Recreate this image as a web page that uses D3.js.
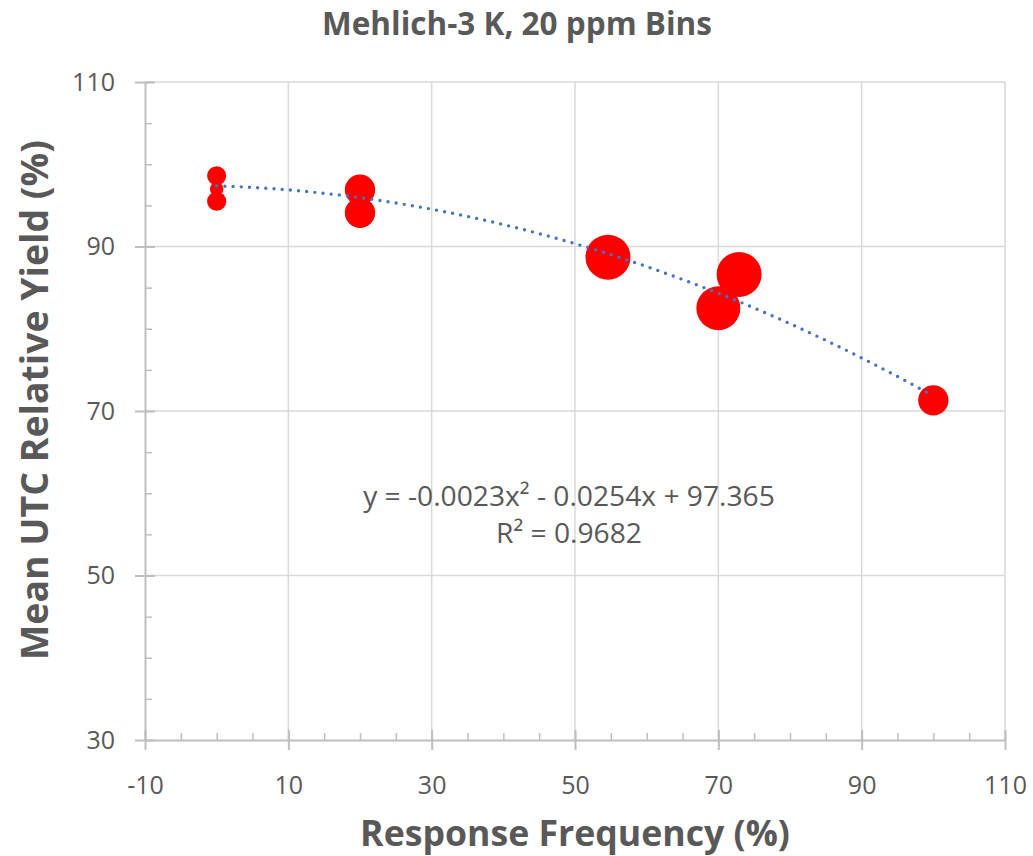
<!DOCTYPE html>
<html>
<head>
<meta charset="utf-8">
<script src="https://cdn.jsdelivr.net/npm/d3@7"></script>
<style>
  body { margin: 0; background: #fff; }
  text { font-family: "Open Sans", "Noto Sans", sans-serif; fill: #595959; }
</style>
</head>
<body>
<div id="viz"></div>
<script>
// -----------------------------
// DATA
// -----------------------------
const responseFreq = [0, 0, 0, 20, 20, 54.6, 70, 72.9, 100];
const relYield     = [98.6, 97.0, 95.5, 96.9, 94.1, 88.7, 82.5, 86.6, 71.3];
const bubbleSize   = [4, 2, 4, 10, 10, 22, 21, 22, 10];

const xTicks = [-10, 10, 30, 50, 70, 90, 110];
const yTicks = [30, 50, 70, 90, 110];

// trendline coefficients as printed on the chart: a*x^2 + b*x + c
const trendCoef = [-0.0023, -0.0254, 97.365];
const trendRange = [0, 100];
const eqLabel = "y = -0.0023x² - 0.0254x + 97.365";
const r2Label = "R² = 0.9682";

const title  = "Mehlich-3 K, 20 ppm Bins";
const xTitle = "Response Frequency (%)";
const yTitle = "Mean UTC Relative Yield (%)";

// -----------------------------
// LAYOUT
// -----------------------------
const width = 1033, height = 856;
const margin = { top: 82, right: 28, bottom: 116, left: 145 };

const svg = d3.select("#viz")
  .append("svg")
  .attr("width", width)
  .attr("height", height);

const x = d3.scaleLinear().domain([-10, 110]).range([margin.left, width - margin.right]);
const y = d3.scaleLinear().domain([30, 110]).range([height - margin.bottom, margin.top]);
const r = d3.scaleSqrt().domain([0, 22]).range([0, 22.5]);

// shrink/grow a text so it spans a given width
function fitText(sel, target) {
  const w = sel.node().getComputedTextLength();
  const fs = parseFloat(sel.attr("font-size"));
  sel.attr("font-size", fs * target / w);
}

// -----------------------------
// GRIDLINES
// -----------------------------
svg.append("g")
  .selectAll("line")
  .data(xTicks.filter(d => d > -10))
  .join("line")
  .attr("x1", d => x(d)).attr("x2", d => x(d))
  .attr("y1", y(30)).attr("y2", y(110))
  .attr("stroke", "#d9d9d9")
  .attr("stroke-width", 1.5);

svg.append("g")
  .selectAll("line")
  .data(yTicks.filter(d => d > 30))
  .join("line")
  .attr("x1", x(-10)).attr("x2", x(110))
  .attr("y1", d => y(d)).attr("y2", d => y(d))
  .attr("stroke", "#d9d9d9")
  .attr("stroke-width", 1.5);

// -----------------------------
// AXES
// -----------------------------
const axisColor = "#bfbfbf";
const plain = d => String(d);   // keep the hyphen-minus like Excel

// x axis: major ticks cross the line, minor ticks inside
const xAxis = svg.append("g").attr("transform", `translate(0,${y(30)})`);
xAxis.call(d3.axisBottom(x).tickValues(d3.range(-10, 111, 5)).tickSize(7).tickFormat(""))
  .call(g => g.selectAll(".tick line").attr("y2", -7).attr("stroke", axisColor).attr("stroke-width", 1.5));
xAxis.call(g => g.select(".domain").remove());
xAxis.append("g")
  .call(d3.axisBottom(x).tickValues(xTicks).tickFormat(plain).tickSizeInner(10).tickSizeOuter(0).tickPadding(26))
  .call(g => g.select(".domain").attr("stroke", axisColor).attr("stroke-width", 2))
  .call(g => g.selectAll(".tick line").attr("y1", -10).attr("stroke", axisColor).attr("stroke-width", 2))
  .call(g => g.selectAll(".tick text").attr("font-size", 25).attr("fill", "#595959")
    .attr("font-family", "\"Open Sans\", sans-serif"));

// y axis
const yAxis = svg.append("g").attr("transform", `translate(${x(-10)},0)`);
yAxis.call(d3.axisLeft(y).tickValues(d3.range(30, 111, 5)).tickSize(7).tickFormat(""))
  .call(g => g.selectAll(".tick line").attr("x2", 7).attr("stroke", axisColor).attr("stroke-width", 1.5));
yAxis.call(g => g.select(".domain").remove());
yAxis.append("g")
  .call(d3.axisLeft(y).tickValues(yTicks).tickFormat(plain).tickSizeInner(10).tickSizeOuter(0).tickPadding(20))
  .call(g => g.select(".domain").attr("stroke", axisColor).attr("stroke-width", 2))
  .call(g => g.selectAll(".tick line").attr("x1", 10).attr("stroke", axisColor).attr("stroke-width", 2))
  .call(g => g.selectAll(".tick text").attr("font-size", 25).attr("fill", "#595959")
    .attr("font-family", "\"Open Sans\", sans-serif"));

// -----------------------------
// BUBBLES
// -----------------------------
const points = responseFreq.map((d, i) => ({ x: d, y: relYield[i], s: bubbleSize[i] }));

svg.append("g")
  .selectAll("circle")
  .data(points)
  .join("circle")
  .attr("cx", d => x(d.x))
  .attr("cy", d => y(d.y))
  .attr("r", d => r(d.s))
  .attr("fill", "#ff0000");

// -----------------------------
// TRENDLINE (dotted)
// -----------------------------
const trend = d3.range(trendRange[0], trendRange[1] + 0.5, 1)
  .map(v => [v, trendCoef[0] * v * v + trendCoef[1] * v + trendCoef[2]]);

svg.append("path")
  .datum(trend)
  .attr("fill", "none")
  .attr("stroke", "#4472c4")
  .attr("stroke-width", 3.4)
  .attr("stroke-linecap", "round")
  .attr("stroke-dasharray", "0 8.2")
  .attr("d", d3.line().x(d => x(d[0])).y(d => y(d[1])).curve(d3.curveMonotoneX));

// -----------------------------
// LABELS
// -----------------------------
const eq = svg.append("text")
  .attr("x", 569).attr("y", 506)
  .attr("text-anchor", "middle")
  .attr("font-size", 25)
  .text(eqLabel)
  .call(fitText, 412);

svg.append("text")
  .attr("x", 569).attr("y", 543)
  .attr("text-anchor", "middle")
  .attr("font-size", eq.attr("font-size"))
  .text(r2Label);

svg.append("text")
  .attr("x", 517).attr("y", 35)
  .attr("text-anchor", "middle")
  .attr("font-size", 26)
  .attr("font-weight", "bold")
  .text(title)
  .call(fitText, 390);

svg.append("text")
  .attr("x", 575).attr("y", 846)
  .attr("text-anchor", "middle")
  .attr("font-size", 34)
  .attr("font-weight", "bold")
  .text(xTitle)
  .call(fitText, 430);

svg.append("text")
  .attr("transform", "translate(48,400) rotate(-90)")
  .attr("text-anchor", "middle")
  .attr("font-size", 34)
  .attr("font-weight", "bold")
  .text(yTitle)
  .call(fitText, 520);
</script>
</body>
</html>
